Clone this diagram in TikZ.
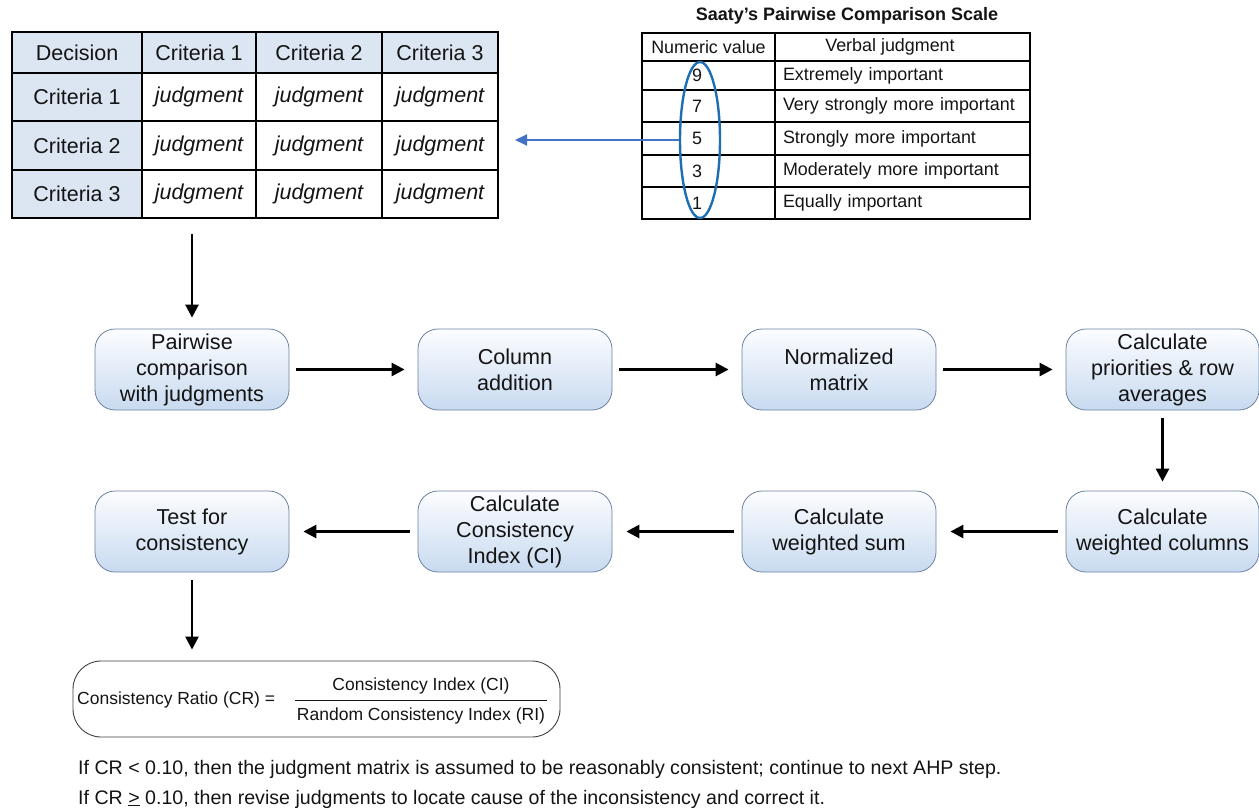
\documentclass[tikz,border=0pt]{standalone}
\usepackage{fontspec}
\setmainfont{Liberation Sans}
\usetikzlibrary{arrows.meta,shapes.geometric}
\definecolor{hdr}{RGB}{220,230,242}
\definecolor{boxtop}{RGB}{252,253,255}
\definecolor{boxbot}{RGB}{200,218,240}
\definecolor{boxline}{RGB}{110,130,160}
\definecolor{ellblue}{RGB}{30,110,180}
\definecolor{arrblue}{RGB}{68,114,196}
\definecolor{txt}{RGB}{20,20,20}
\begin{document}
\begin{tikzpicture}[x=1pt,y=-1pt,
  cell/.style={draw=black, line width=1.6pt, inner sep=0pt, text=txt,
    font=\fontsize{21.5}{25}\selectfont},
  hcell/.style={cell, fill=hdr},
  scell/.style={draw=black, line width=1.3pt, inner sep=0pt, text=txt,
    font=\fontsize{17.9}{21}\selectfont},
  vcell/.style={scell, text width=239pt, inner xsep=8pt, align=left},
  flow/.style={rounded corners=20pt, draw=boxline, line width=0.8pt,
    top color=boxtop, bottom color=boxbot, minimum width=194pt,
    minimum height=81pt, align=center, text=txt,
    font=\fontsize{21.6}{26}\selectfont, inner sep=2pt},
  arr/.style={-{Triangle[length=13pt,width=13pt]}, line width=2.6pt},
  bluearr/.style={-{Triangle[length=12pt,width=11pt]}, line width=2pt, draw=arrblue, fill=arrblue},
]
\useasboundingbox (0,0) rectangle (1259,809);

% ---- decision matrix ----
\node[hcell, minimum width=130pt, minimum height=41pt] (t00) at (77,52.5) {Decision};
\node[hcell, minimum width=114pt, minimum height=41pt] (t01) at (199,52.5) {Criteria 1};
\node[hcell, minimum width=126pt, minimum height=41pt] (t02) at (319,52.5) {Criteria 2};
\node[hcell, minimum width=116pt, minimum height=41pt] (t03) at (440,52.5) {Criteria 3};
\node[hcell, minimum width=130pt, minimum height=48pt] (t10) at (77,97) {Criteria 1};
\node[cell, minimum width=114pt, minimum height=48pt] (t11) at (199,97) {\itshape judgment};
\node[cell, minimum width=126pt, minimum height=48pt] (t12) at (319,97) {\itshape judgment};
\node[cell, minimum width=116pt, minimum height=48pt] (t13) at (440,97) {\itshape judgment};
\node[hcell, minimum width=130pt, minimum height=49pt] (t20) at (77,145.5) {Criteria 2};
\node[cell, minimum width=114pt, minimum height=49pt] (t21) at (199,145.5) {\itshape judgment};
\node[cell, minimum width=126pt, minimum height=49pt] (t22) at (319,145.5) {\itshape judgment};
\node[cell, minimum width=116pt, minimum height=49pt] (t23) at (440,145.5) {\itshape judgment};
\node[hcell, minimum width=130pt, minimum height=48pt] (t30) at (77,194) {Criteria 3};
\node[cell, minimum width=114pt, minimum height=48pt] (t31) at (199,194) {\itshape judgment};
\node[cell, minimum width=126pt, minimum height=48pt] (t32) at (319,194) {\itshape judgment};
\node[cell, minimum width=116pt, minimum height=48pt] (t33) at (440,194) {\itshape judgment};

% ---- Saaty scale ----
\node[font=\bfseries\fontsize{18}{21}\selectfont, text=txt] (stitle) at (847,16) {Saaty’s Pairwise Comparison Scale};
\node[scell, minimum width=133pt, minimum height=28pt] (s00) at (708.5,47) {Numeric value};
\node[scell, minimum width=255pt, minimum height=28pt] (s01) at (902.5,47) {\kern-25pt Verbal judgment};
\node[scell, minimum width=133pt, minimum height=29pt] (s10) at (708.5,75.5) {9\kern23pt};
\node[vcell, minimum height=29pt] (s11) at (902.5,75.5) {Extremely important};
\node[scell, minimum width=133pt, minimum height=32pt] (s20) at (708.5,106) {7\kern23pt};
\node[vcell, minimum height=32pt] (s21) at (902.5,106) {Very strongly more important};
\node[scell, minimum width=133pt, minimum height=33pt] (s30) at (708.5,138.5) {5\kern23pt};
\node[vcell, minimum height=33pt] (s31) at (902.5,138.5) {Strongly more important};
\node[scell, minimum width=133pt, minimum height=32pt] (s40) at (708.5,171) {3\kern23pt};
\node[vcell, minimum height=32pt] (s41) at (902.5,171) {Moderately more important};
\node[scell, minimum width=133pt, minimum height=32pt] (s50) at (708.5,203) {1\kern23pt};
\node[vcell, minimum height=32pt] (s51) at (902.5,203) {Equally important};

\node[ellipse, draw=ellblue, line width=2.4pt, minimum width=40pt, minimum height=156pt, inner sep=0pt] (ell) at (700,140) {};
\coordinate (tip) at (515,140);
\draw[bluearr] (ell.west) -- (tip);

% ---- flow boxes ----
\node[flow] (b1) at (192,369.5) {Pairwise\\comparison\\with judgments};
\node[flow] (b2) at (515,369.5) {Column\\addition};
\node[flow] (b3) at (839,369.5) {Normalized\\matrix};
\node[flow, minimum width=193pt] (b4) at (1162.5,369.5) {Calculate\\priorities \& row\\averages};
\node[flow, minimum width=193pt] (b5) at (1162.5,531.5) {Calculate\\weighted columns};
\node[flow] (b6) at (839,531.5) {Calculate\\weighted sum};
\node[flow] (b7) at (515,531.5) {Calculate\\Consistency\\Index (CI)};
\node[flow] (b8) at (192,531.5) {Test for\\consistency};

\draw[arr, shorten <=15pt, shorten >=11pt] (t30.south -| b1.north) -- (b1.north);
\draw[arr, shorten <=7pt, shorten >=13pt] (b1.east) -- (b2.west);
\draw[arr, shorten <=7pt, shorten >=13pt] (b2.east) -- (b3.west);
\draw[arr, shorten <=7pt, shorten >=13pt] (b3.east) -- (b4.west);
\draw[arr, shorten <=8pt, shorten >=9pt] (b4.south) -- (b5.north);
\draw[arr, shorten <=8pt, shorten >=14pt] (b5.west) -- (b6.east);
\draw[arr, shorten <=8pt, shorten >=14pt] (b6.west) -- (b7.east);
\draw[arr, shorten <=8pt, shorten >=14pt] (b7.west) -- (b8.east);

% ---- consistency ratio ----
\node[draw=black!75, line width=0.9pt, rounded corners=28pt, minimum width=487pt, minimum height=76pt] (crbox) at (316.5,699) {};
\draw[arr, shorten <=8pt, shorten >=11pt] (b8.south) -- (b8.south |- crbox.north);
\node[anchor=west, inner sep=0pt, text=txt, font=\fontsize{17.5}{20}\selectfont] (crl) at (77,700) {Consistency Ratio (CR) =};
\node[inner sep=0pt, text=txt, font=\fontsize{17.5}{20}\selectfont] (num) at (421,686) {Consistency Index (CI)};
\node[inner sep=0pt, text=txt, font=\fontsize{17.5}{20}\selectfont] (den) at (421,716) {Random Consistency Index (RI)};
\draw[line width=1.6pt, txt] (295,700.5) -- (547,700.5);

\node[anchor=base west, inner sep=0pt, text=txt, font=\fontsize{19.6}{22}\selectfont] (l1) at (78,774) {If CR < 0.10, then the judgment matrix is assumed to be reasonably consistent; continue to next AHP step.};
\node[anchor=base west, inner sep=0pt, text=txt, font=\fontsize{19.6}{22}\selectfont] (l2) at (78,804) {If CR \underline{>} 0.10, then revise judgments to locate cause of the inconsistency and correct it.};
\end{tikzpicture}
\end{document}
